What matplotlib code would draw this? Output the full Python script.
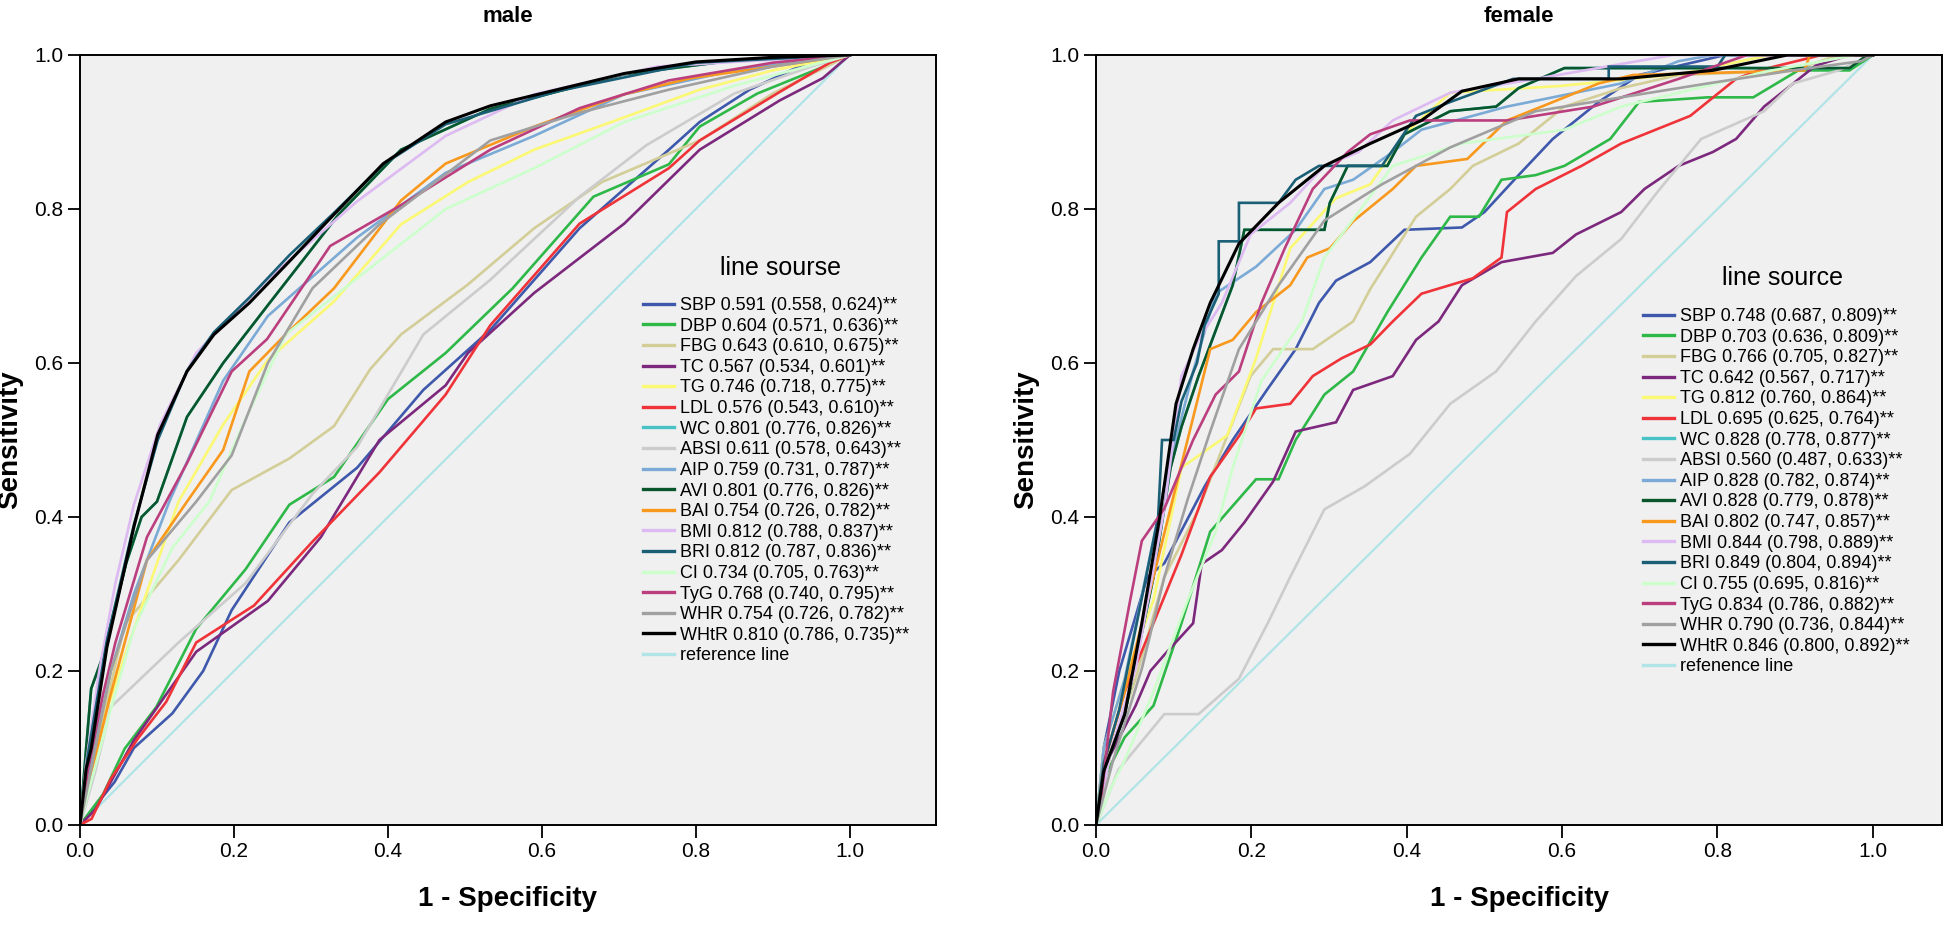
import matplotlib
matplotlib.use("Agg")
import matplotlib.pyplot as plt

# -----------------------------------------------------------------------------
# DATA
# -----------------------------------------------------------------------------

MARKERS = ["SBP", "DBP", "FBG", "TC", "TG", "LDL", "WC", "ABSI", "AIP",
           "AVI", "BAI", "BMI", "BRI", "CI", "TyG", "WHR", "WHtR"]

MALE_AUC = [
    "0.591 (0.558, 0.624)**", "0.604 (0.571, 0.636)**", "0.643 (0.610, 0.675)**",
    "0.567 (0.534, 0.601)**", "0.746 (0.718, 0.775)**", "0.576 (0.543, 0.610)**",
    "0.801 (0.776, 0.826)**", "0.611 (0.578, 0.643)**", "0.759 (0.731, 0.787)**",
    "0.801 (0.776, 0.826)**", "0.754 (0.726, 0.782)**", "0.812 (0.788, 0.837)**",
    "0.812 (0.787, 0.836)**", "0.734 (0.705, 0.763)**", "0.768 (0.740, 0.795)**",
    "0.754 (0.726, 0.782)**", "0.810 (0.786, 0.735)**",
]
FEMALE_AUC = [
    "0.748 (0.687, 0.809)**", "0.703 (0.636, 0.809)**", "0.766 (0.705, 0.827)**",
    "0.642 (0.567, 0.717)**", "0.812 (0.760, 0.864)**", "0.695 (0.625, 0.764)**",
    "0.828 (0.778, 0.877)**", "0.560 (0.487, 0.633)**", "0.828 (0.782, 0.874)**",
    "0.828 (0.779, 0.878)**", "0.802 (0.747, 0.857)**", "0.844 (0.798, 0.889)**",
    "0.849 (0.804, 0.894)**", "0.755 (0.695, 0.816)**", "0.834 (0.786, 0.882)**",
    "0.790 (0.736, 0.844)**", "0.846 (0.800, 0.892)**",
]

COLORS = ["#3E58AC", "#2EB848", "#D3CE97", "#7C287D", "#FBF873", "#EF3338",
          "#48C2C5", "#CCCCCC", "#7AAAD5", "#0A562C", "#F8981D", "#DDBAF1",
          "#1A5F76", "#CCFFCC", "#BB3F7F", "#A0A0A0", "#000000"]
REF_COLOR = "#B0E4E6"

# male curves: (1 - specificity, sensitivity)
M_SBP = [(0, 0), (0.02, 0.025), (0.045, 0.056), (0.07, 0.1), (0.12, 0.145), (0.16, 0.2),
         (0.197, 0.279), (0.272, 0.393), (0.36, 0.464), (0.446, 0.565), (0.533, 0.643),
         (0.649, 0.775), (0.765, 0.877), (0.805, 0.913), (0.87, 0.955), (0.951, 0.993), (1, 1)]
M_DBP = [(0, 0), (0.03, 0.04), (0.058, 0.099), (0.099, 0.153), (0.151, 0.255), (0.215, 0.332),
         (0.272, 0.416), (0.33, 0.452), (0.4, 0.553), (0.475, 0.613), (0.562, 0.697),
         (0.667, 0.816), (0.765, 0.858), (0.805, 0.907), (0.88, 0.95), (0.964, 0.984), (1, 1)]
M_FBG = [(0, 0), (0.015, 0.06), (0.035, 0.16), (0.058, 0.261), (0.128, 0.344), (0.197, 0.435),
         (0.272, 0.476), (0.33, 0.518), (0.377, 0.592), (0.417, 0.637), (0.504, 0.702),
         (0.59, 0.775), (0.678, 0.835), (0.805, 0.889), (0.9, 0.95), (1, 1)]
M_TC = [(0, 0), (0.02, 0.02), (0.07, 0.11), (0.151, 0.225), (0.244, 0.291), (0.313, 0.374),
        (0.389, 0.5), (0.475, 0.571), (0.504, 0.613), (0.59, 0.691), (0.707, 0.781),
        (0.805, 0.877), (0.909, 0.941), (0.965, 0.97), (1, 1)]
M_TG = [(0, 0), (0.01, 0.05), (0.035, 0.15), (0.064, 0.237), (0.128, 0.42), (0.186, 0.52),
        (0.244, 0.604), (0.33, 0.68), (0.417, 0.78), (0.504, 0.835), (0.59, 0.877),
        (0.707, 0.919), (0.805, 0.955), (0.9, 0.98), (1, 1)]
M_LDL = [(0, 0), (0.015, 0.008), (0.04, 0.06), (0.075, 0.112), (0.112, 0.16), (0.151, 0.237),
         (0.226, 0.285), (0.302, 0.368), (0.389, 0.458), (0.475, 0.559), (0.533, 0.649),
         (0.649, 0.781), (0.765, 0.853), (0.805, 0.889), (0.909, 0.952), (0.974, 0.99), (1, 1)]
M_ABSI = [(0, 0), (0.02, 0.07), (0.04, 0.153), (0.128, 0.237), (0.215, 0.314), (0.302, 0.43),
          (0.36, 0.491), (0.446, 0.637), (0.533, 0.708), (0.649, 0.816), (0.736, 0.883),
          (0.85, 0.95), (0.95, 0.985), (1, 1)]
M_AIP = [(0, 0), (0.01, 0.06), (0.04, 0.2), (0.07, 0.3), (0.116, 0.42), (0.186, 0.577),
         (0.244, 0.661), (0.36, 0.763), (0.475, 0.847), (0.59, 0.895), (0.707, 0.949),
         (0.85, 0.98), (1, 1)]
M_AVI = [(0, 0), (0.008, 0.1), (0.0145, 0.177), (0.03, 0.22), (0.06, 0.34), (0.08, 0.40),
         (0.1, 0.42), (0.139, 0.53), (0.186, 0.6), (0.244, 0.675), (0.336, 0.793),
         (0.417, 0.877), (0.533, 0.93), (0.707, 0.975), (0.85, 0.993), (1, 1)]
M_WC = M_AVI
M_BAI = [(0, 0), (0.01, 0.05), (0.04, 0.17), (0.087, 0.344), (0.139, 0.42), (0.186, 0.487),
         (0.22, 0.589), (0.267, 0.637), (0.33, 0.697), (0.417, 0.811), (0.475, 0.859),
         (0.59, 0.907), (0.707, 0.949), (0.794, 0.97), (0.9, 0.985), (1, 1)]
M_BMI = [(0, 0), (0.008, 0.08), (0.025, 0.2), (0.046, 0.314), (0.07, 0.416), (0.104, 0.52),
         (0.151, 0.613), (0.197, 0.66), (0.243, 0.708), (0.36, 0.81), (0.475, 0.895),
         (0.59, 0.949), (0.75, 0.985), (1, 1)]
M_BRI = [(0, 0), (0.01, 0.09), (0.035, 0.24), (0.07, 0.39), (0.101, 0.5), (0.139, 0.59),
         (0.174, 0.64), (0.22, 0.685), (0.272, 0.74), (0.33, 0.795), (0.394, 0.858),
         (0.475, 0.91), (0.62, 0.953), (0.8, 0.99), (1, 1)]
M_CI = [(0, 0), (0.01, 0.04), (0.04, 0.15), (0.07, 0.255), (0.12, 0.36), (0.168, 0.42),
        (0.215, 0.527), (0.267, 0.637), (0.36, 0.71), (0.475, 0.8), (0.59, 0.853),
        (0.707, 0.913), (0.85, 0.96), (1, 1)]
M_TYG = [(0, 0), (0.01, 0.07), (0.03, 0.17), (0.046, 0.237), (0.087, 0.374), (0.139, 0.47),
         (0.197, 0.589), (0.243, 0.631), (0.325, 0.752), (0.417, 0.805), (0.533, 0.877),
         (0.649, 0.931), (0.765, 0.967), (0.9, 0.99), (1, 1)]
M_WHR = [(0, 0), (0.01, 0.05), (0.04, 0.2), (0.087, 0.344), (0.151, 0.42), (0.197, 0.48),
         (0.244, 0.6), (0.302, 0.697), (0.389, 0.78), (0.533, 0.889), (0.649, 0.925),
         (0.765, 0.955), (0.9, 0.985), (1, 1)]
M_WHTR = [(0, 0), (0.008, 0.073), (0.0145, 0.099), (0.035, 0.231), (0.07, 0.387), (0.101, 0.507),
          (0.139, 0.589), (0.174, 0.637), (0.22, 0.678), (0.272, 0.732), (0.33, 0.793),
          (0.394, 0.859), (0.475, 0.913), (0.533, 0.934), (0.62, 0.955), (0.707, 0.976),
          (0.8, 0.991), (0.9, 0.997), (1, 1)]

# female curves
F_SBP = [(0, 0), (0.01, 0.1), (0.03, 0.2), (0.066, 0.322), (0.088, 0.34), (0.14, 0.44),
         (0.176, 0.5), (0.22, 0.565), (0.257, 0.618), (0.287, 0.678), (0.309, 0.707),
         (0.353, 0.731), (0.397, 0.773), (0.471, 0.776), (0.5, 0.796), (0.544, 0.844),
         (0.588, 0.891), (0.647, 0.939), (0.699, 0.974), (0.75, 0.986), (0.81, 1.0), (1, 1)]
F_DBP = [(0, 0), (0.01, 0.06), (0.037, 0.114), (0.074, 0.155), (0.11, 0.262), (0.147, 0.381),
         (0.206, 0.449), (0.235, 0.449), (0.257, 0.5), (0.294, 0.559), (0.331, 0.589),
         (0.375, 0.666), (0.419, 0.737), (0.456, 0.79), (0.493, 0.79), (0.522, 0.838),
         (0.566, 0.844), (0.603, 0.856), (0.662, 0.891), (0.699, 0.939), (0.787, 0.945),
         (0.846, 0.945), (0.904, 0.98), (0.97, 0.98), (1, 1)]
F_FBG = [(0, 0), (0.02, 0.1), (0.051, 0.19), (0.088, 0.322), (0.132, 0.41), (0.199, 0.583),
         (0.228, 0.618), (0.279, 0.618), (0.331, 0.654), (0.353, 0.696), (0.412, 0.79),
         (0.456, 0.826), (0.485, 0.856), (0.544, 0.885), (0.603, 0.933), (0.676, 0.957),
         (0.75, 0.974), (0.897, 0.98), (0.956, 1.0), (1, 1)]
F_TC = [(0, 0), (0.015, 0.084), (0.051, 0.155), (0.07, 0.2), (0.088, 0.221), (0.125, 0.262),
        (0.136, 0.339), (0.162, 0.357), (0.191, 0.393), (0.228, 0.446), (0.257, 0.511),
        (0.309, 0.523), (0.331, 0.565), (0.382, 0.583), (0.412, 0.63), (0.441, 0.654),
        (0.471, 0.701), (0.522, 0.731), (0.588, 0.743), (0.618, 0.767), (0.676, 0.796),
        (0.706, 0.826), (0.75, 0.856), (0.794, 0.874), (0.824, 0.891), (0.86, 0.933),
        (0.89, 0.957), (0.926, 0.986), (0.97, 1.0), (1, 1)]
F_TG = [(0, 0), (0.01, 0.1), (0.037, 0.19), (0.074, 0.292), (0.11, 0.464), (0.169, 0.506),
        (0.206, 0.606), (0.25, 0.749), (0.309, 0.814), (0.353, 0.832), (0.397, 0.897),
        (0.456, 0.951), (0.6, 0.96), (0.75, 0.975), (0.868, 1.0), (1, 1)]
F_LDL = [(0, 0), (0.01, 0.08), (0.037, 0.173), (0.074, 0.262), (0.11, 0.351), (0.147, 0.452),
         (0.184, 0.505), (0.206, 0.541), (0.25, 0.547), (0.279, 0.583), (0.316, 0.606),
         (0.353, 0.624), (0.382, 0.654), (0.419, 0.69), (0.485, 0.71), (0.522, 0.737),
         (0.529, 0.796), (0.566, 0.826), (0.625, 0.856), (0.676, 0.885), (0.765, 0.921),
         (0.824, 0.969), (0.853, 0.98), (0.934, 1.0), (1, 1)]
F_ABSI = [(0, 0), (0.029, 0.072), (0.088, 0.144), (0.132, 0.144), (0.184, 0.19), (0.221, 0.262),
          (0.25, 0.322), (0.294, 0.41), (0.346, 0.44), (0.404, 0.482), (0.456, 0.547),
          (0.515, 0.589), (0.566, 0.654), (0.618, 0.713), (0.676, 0.761), (0.721, 0.82),
          (0.779, 0.891), (0.86, 0.927), (0.897, 0.963), (0.956, 0.98), (1, 1)]
F_AIP = [(0, 0), (0.01, 0.1), (0.037, 0.19), (0.088, 0.44), (0.125, 0.589), (0.154, 0.69),
         (0.206, 0.725), (0.257, 0.773), (0.294, 0.826), (0.331, 0.838), (0.382, 0.874),
         (0.419, 0.903), (0.529, 0.933), (0.676, 0.963), (0.75, 0.992), (0.794, 1.0), (1, 1)]
F_AVI = [(0, 0), (0.01, 0.07), (0.037, 0.144), (0.074, 0.322), (0.096, 0.464), (0.11, 0.517),
         (0.132, 0.583), (0.154, 0.642), (0.176, 0.701), (0.191, 0.773), (0.294, 0.773),
         (0.301, 0.808), (0.324, 0.856), (0.375, 0.856), (0.397, 0.897), (0.456, 0.927),
         (0.515, 0.933), (0.544, 0.957), (0.603, 0.983), (0.97, 0.983), (0.993, 1.0), (1, 1)]
F_WC = F_AVI
F_BAI = [(0, 0), (0.01, 0.08), (0.037, 0.173), (0.074, 0.322), (0.103, 0.44), (0.125, 0.529),
         (0.147, 0.618), (0.176, 0.63), (0.206, 0.666), (0.25, 0.701), (0.272, 0.737),
         (0.301, 0.749), (0.331, 0.784), (0.382, 0.826), (0.412, 0.856), (0.478, 0.865),
         (0.529, 0.915), (0.581, 0.936), (0.647, 0.963), (0.691, 0.974), (0.912, 0.98),
         (0.919, 1.0), (1, 1)]
F_BMI = [(0, 0), (0.02, 0.1), (0.051, 0.203), (0.088, 0.411), (0.11, 0.583), (0.132, 0.63),
         (0.162, 0.678), (0.199, 0.767), (0.25, 0.808), (0.294, 0.856), (0.338, 0.874),
         (0.382, 0.915), (0.456, 0.951), (0.566, 0.969), (0.743, 1.0), (1, 1)]
F_BRI = [(0, 0), (0.01, 0.08), (0.03, 0.15), (0.06, 0.3), (0.08, 0.4), (0.085, 0.5), (0.1, 0.5),
         (0.11, 0.55), (0.13, 0.6), (0.14, 0.65), (0.158, 0.69), (0.158, 0.758), (0.184, 0.758),
         (0.184, 0.808), (0.235, 0.808), (0.257, 0.838), (0.287, 0.856), (0.368, 0.856),
         (0.412, 0.921), (0.456, 0.939), (0.537, 0.969), (0.66, 0.969), (0.66, 0.985),
         (0.8, 0.985), (0.81, 1.0), (1, 1)]
F_CI = [(0, 0), (0.02, 0.05), (0.037, 0.084), (0.074, 0.173), (0.118, 0.292), (0.154, 0.381),
        (0.176, 0.464), (0.213, 0.577), (0.265, 0.654), (0.294, 0.737), (0.338, 0.796),
        (0.382, 0.856), (0.471, 0.885), (0.603, 0.903), (0.676, 0.933), (0.75, 0.951),
        (0.86, 0.978), (0.978, 1.0), (1, 1)]
F_TYG = [(0, 0), (0.007, 0.037), (0.022, 0.173), (0.044, 0.292), (0.059, 0.369), (0.088, 0.411),
         (0.125, 0.5), (0.154, 0.559), (0.184, 0.589), (0.213, 0.678), (0.243, 0.749),
         (0.279, 0.826), (0.324, 0.874), (0.353, 0.897), (0.404, 0.915), (0.529, 0.915),
         (0.64, 0.933), (0.75, 0.969), (0.838, 1.0), (1, 1)]
F_WHR = [(0, 0), (0.022, 0.084), (0.059, 0.203), (0.088, 0.322), (0.118, 0.423), (0.147, 0.511),
         (0.184, 0.618), (0.235, 0.701), (0.294, 0.785), (0.368, 0.832), (0.456, 0.88),
         (0.566, 0.927), (0.676, 0.945), (0.787, 0.963), (0.897, 0.98), (0.985, 0.992), (1, 1)]
F_WHTR = [(0, 0), (0.01, 0.07), (0.037, 0.144), (0.059, 0.262), (0.081, 0.393), (0.103, 0.547),
          (0.125, 0.618), (0.147, 0.678), (0.184, 0.755), (0.235, 0.808), (0.294, 0.856),
          (0.353, 0.885), (0.419, 0.915), (0.471, 0.953), (0.544, 0.969), (0.676, 0.969),
          (0.794, 0.98), (0.89, 1.0), (1, 1)]

MALE_CURVES = [M_SBP, M_DBP, M_FBG, M_TC, M_TG, M_LDL, M_WC, M_ABSI, M_AIP,
               M_AVI, M_BAI, M_BMI, M_BRI, M_CI, M_TYG, M_WHR, M_WHTR]
FEMALE_CURVES = [F_SBP, F_DBP, F_FBG, F_TC, F_TG, F_LDL, F_WC, F_ABSI, F_AIP,
                 F_AVI, F_BAI, F_BMI, F_BRI, F_CI, F_TYG, F_WHR, F_WHTR]

TICKS = [0.0, 0.2, 0.4, 0.6, 0.8, 1.0]

# -----------------------------------------------------------------------------
# PLOT
# -----------------------------------------------------------------------------

plt.rcParams["font.family"] = ["Liberation Sans", "DejaVu Sans"]

W, H = 1946, 926
fig = plt.figure(figsize=(W / 100, H / 100), dpi=100)


def px_axes(x0, x1, y_top, y_bot):
    return fig.add_axes([x0 / W, 1 - y_bot / H, (x1 - x0) / W, (y_bot - y_top) / H])


def draw_panel(ax, curves, aucs, title, xmax, leg_title, ref_label, leg_x, leg_y, title_xy):
    handles = []
    for name, pts, auc, col in zip(MARKERS, curves, aucs, COLORS):
        xs = [p[0] for p in pts]
        ys = [p[1] for p in pts]
        lw = 2.2 if name == "WHtR" else 1.9
        h, = ax.plot(xs, ys, color=col, lw=lw, solid_joinstyle="miter")
        handles.append((h, f"{name} {auc}"))
    ref, = ax.plot([0, 1], [0, 1], color=REF_COLOR, lw=1.6, zorder=1)
    handles.append((ref, ref_label))

    ax.set_facecolor("#F0F0F0")
    ax.set_xlim(0, xmax)
    ax.set_ylim(0, 1)
    ax.set_xticks(TICKS)
    ax.set_yticks(TICKS)
    ax.set_xticklabels([f"{t:.1f}" for t in TICKS])
    ax.set_yticklabels([f"{t:.1f}" for t in TICKS])
    ax.tick_params(direction="out", length=9, width=1.3, labelsize=15, pad=3)
    for s in ax.spines.values():
        s.set_linewidth(1.4)
        s.set_color("black")

    ax.set_xlabel("1 - Specificity", fontsize=20, fontweight="bold", labelpad=18)
    ax.set_ylabel("Sensitivity", fontsize=20, fontweight="bold", labelpad=8)
    ax.set_title(title, fontsize=16, fontweight="bold", pad=24)

    leg = ax.legend([h for h, _ in handles], [l for _, l in handles],
                    loc="upper left", bbox_to_anchor=(leg_x / W, 1 - leg_y / H),
                    bbox_transform=fig.transFigure, frameon=False, fontsize=13,
                    borderpad=0, borderaxespad=0, handlelength=1.7,
                    handletextpad=0.35, labelspacing=0.2)
    for line in leg.get_lines():
        line.set_linewidth(2.4)
    fig.text(title_xy[0] / W, 1 - title_xy[1] / H, leg_title, fontsize=18,
             ha="center", va="center")


ax_m = px_axes(80, 936, 55, 825)
draw_panel(ax_m, MALE_CURVES, MALE_AUC, "male", 1.112, "line sourse", "reference line",
           643, 297, (780, 268))

ax_f = px_axes(1096, 1942, 55, 825)
draw_panel(ax_f, FEMALE_CURVES, FEMALE_AUC, "female", 1.089, "line source", "refenence line",
           1643, 308, (1782, 278))

plt.savefig("out.png", dpi=100)
plt.close()
